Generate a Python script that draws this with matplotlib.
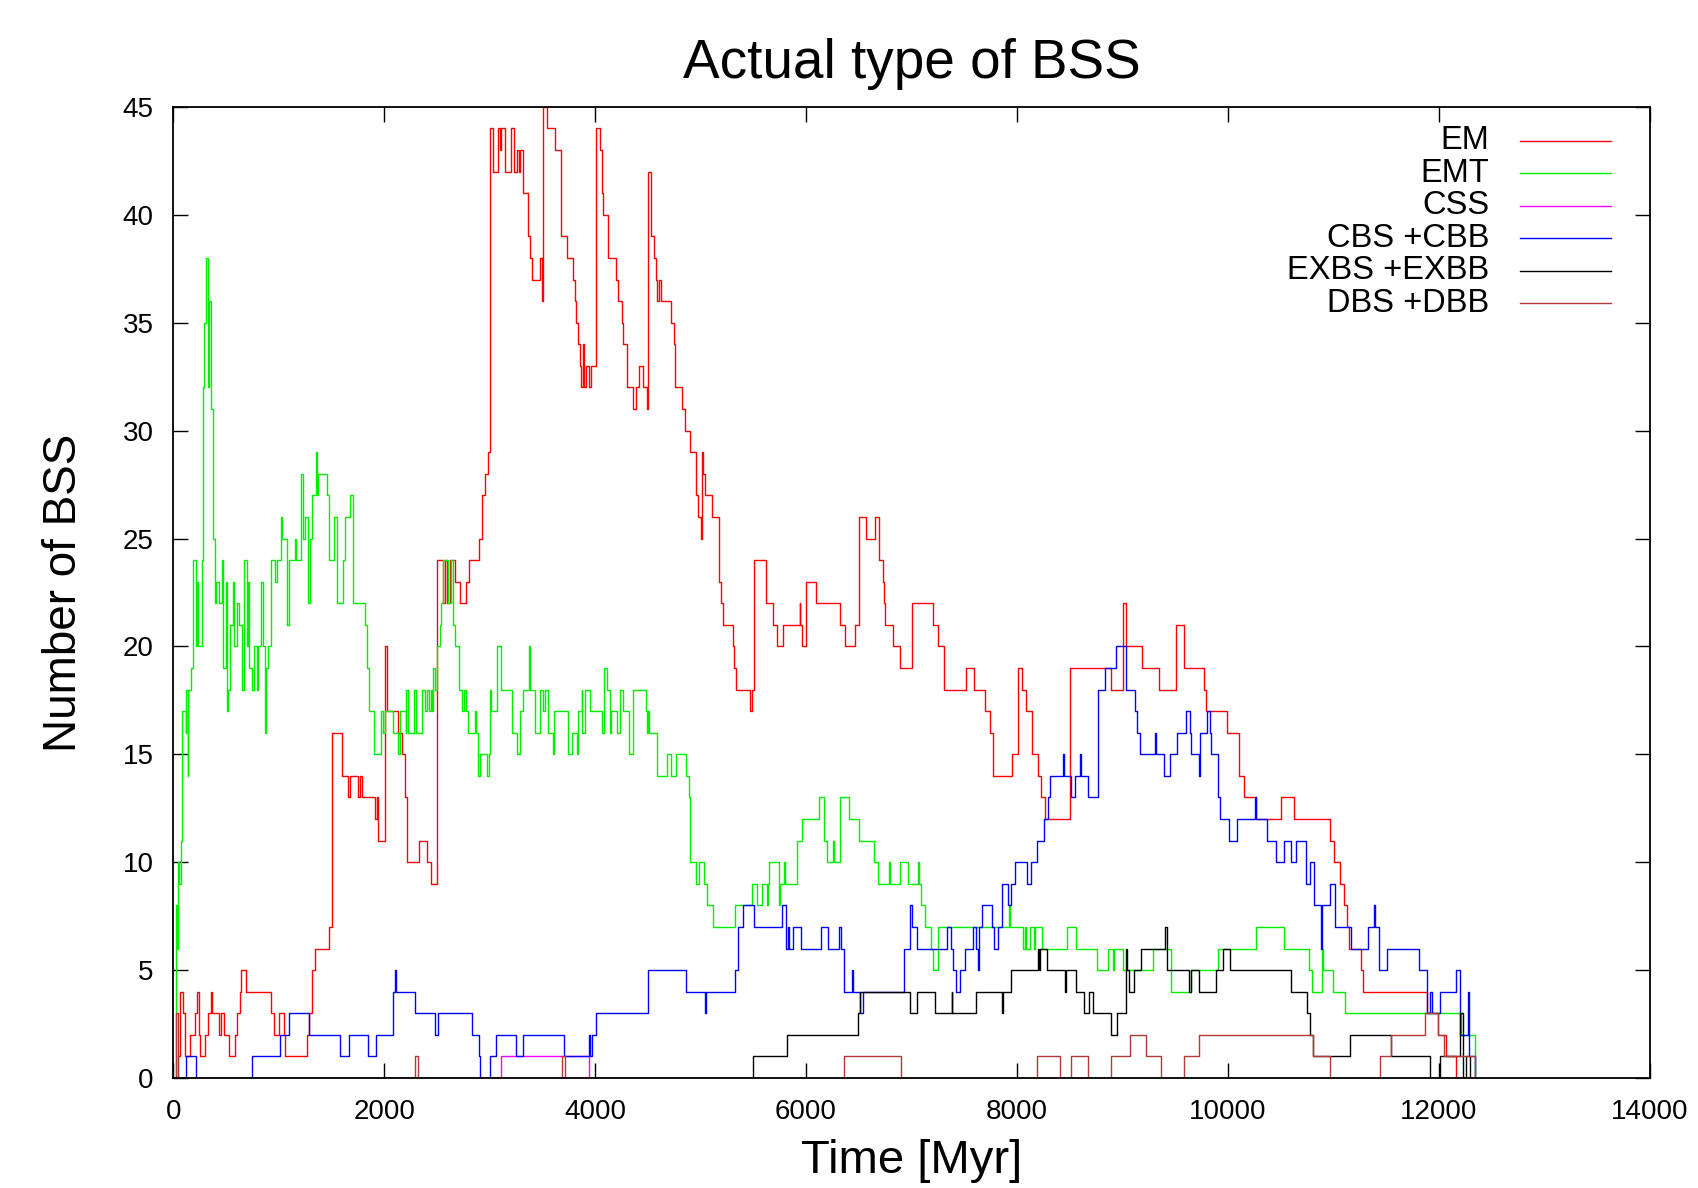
import matplotlib
matplotlib.use("Agg")
import matplotlib.pyplot as plt
from matplotlib.lines import Line2D

plt.rcParams['font.family'] = ['Liberation Sans', 'DejaVu Sans']

# (time [Myr], number of BSS) step breakpoints
em = [(0, 0), (40, 1), (60, 4), (91, 3), (113, 1), (161, 2), (208, 3), (224, 4), (240, 3), (246, 2),
      (255, 1), (303, 2), (328, 3), (358, 4), (366, 3), (429, 2), (451, 3), (483, 2), (530, 1), (587, 2),
      (603, 3), (628, 4), (641, 5), (688, 4), (928, 3), (957, 2), (1004, 3), (1052, 2), (1061, 1), (1267, 2),
      (1283, 3), (1314, 5), (1339, 6), (1472, 7), (1504, 16), (1595, 14), (1658, 13), (1674, 14), (1753, 13),
      (1769, 14), (1785, 13), (1911, 12), (1927, 13), (1943, 11), (2006, 20), (2022, 17), (2133, 16),
      (2164, 15), (2196, 13), (2218, 10), (2332, 11), (2408, 10), (2439, 9), (2505, 24), (2560, 22),
      (2575, 24), (2591, 22), (2622, 24), (2670, 23), (2717, 22), (2780, 23), (2806, 24), (2900, 25),
      (2923, 27), (2954, 28), (2980, 29), (3002, 44), (3030, 42), (3080, 44), (3100, 43), (3112, 44),
      (3150, 42), (3200, 44), (3230, 42), (3255, 43), (3280, 42), (3292, 43), (3318, 41), (3365, 39),
      (3387, 38), (3406, 37), (3476, 38), (3492, 36), (3507, 45), (3545, 44), (3618, 43), (3681, 39),
      (3735, 38), (3786, 37), (3808, 36), (3814, 35), (3833, 34), (3861, 33), (3868, 32), (3886, 34),
      (3899, 32), (3918, 33), (3940, 32), (3959, 33), (4004, 44), (4045, 43), (4061, 41), (4076, 40),
      (4124, 38), (4196, 37), (4219, 36), (4250, 35), (4266, 34), (4298, 32), (4355, 31), (4386, 32),
      (4418, 33), (4456, 32), (4493, 31), (4506, 42), (4525, 39), (4557, 38), (4575, 37), (4588, 36),
      (4607, 37), (4629, 36), (4724, 35), (4746, 34), (4756, 32), (4828, 31), (4850, 30), (4898, 29),
      (4961, 27), (4977, 26), (5000, 25), (5009, 29), (5025, 28), (5040, 27), (5104, 26), (5173, 23),
      (5192, 22), (5208, 21), (5303, 20), (5318, 19), (5334, 18), (5473, 17), (5483, 18), (5508, 24),
      (5616, 22), (5688, 21), (5726, 20), (5777, 21), (5941, 22), (5947, 21), (5957, 20), (6004, 23),
      (6093, 22), (6320, 21), (6367, 20), (6462, 21), (6503, 26), (6573, 25), (6658, 26), (6690, 24),
      (6725, 23), (6737, 22), (6753, 21), (6826, 20), (6889, 19), (7000, 22), (7205, 21), (7252, 20),
      (7306, 18), (7512, 19), (7590, 18), (7695, 17), (7748, 16), (7774, 14), (7954, 15), (8010, 19),
      (8052, 18), (8089, 17), (8146, 15), (8200, 14), (8232, 13), (8263, 12), (8507, 19), (8896, 18),
      (9006, 22), (9038, 20), (9189, 19), (9347, 18), (9506, 21), (9581, 19), (9771, 18), (9796, 17),
      (9992, 16), (10103, 14), (10150, 13), (10270, 12), (10507, 13), (10624, 12), (10966, 11),
      (11004, 10), (11060, 9), (11098, 8), (11130, 7), (11149, 6), (11266, 5), (11282, 4), (11888, 3),
      (11990, 2), (12072, 1), (12164, 0)]

emt = [(0, 0), (25, 8), (37, 6), (47, 10), (56, 9), (69, 11), (78, 14), (85, 17), (116, 16), (119, 18),
       (135, 14), (142, 18), (164, 19), (189, 24), (214, 20), (221, 23), (230, 20), (268, 24), (277, 32),
       (290, 35), (306, 38), (325, 32), (334, 36), (353, 31), (372, 25), (394, 22), (401, 23), (435, 22),
       (464, 24), (473, 19), (499, 23), (511, 17), (521, 18), (537, 21), (568, 23), (578, 20), (600, 22),
       (622, 21), (647, 18), (669, 24), (695, 20), (710, 23), (720, 19), (742, 18), (767, 20), (796, 18),
       (805, 20), (827, 23), (846, 20), (868, 16), (878, 19), (894, 20), (925, 24), (963, 23), (979, 24),
       (1020, 26), (1033, 25), (1074, 21), (1099, 24), (1153, 25), (1162, 24), (1210, 28), (1232, 25),
       (1248, 26), (1273, 22), (1295, 25), (1311, 27), (1349, 29), (1358, 27), (1374, 28), (1459, 27),
       (1478, 24), (1523, 26), (1548, 22), (1605, 24), (1627, 26), (1674, 27), (1700, 22), (1817, 21),
       (1833, 19), (1854, 17), (1902, 15), (1968, 17), (1990, 16), (2006, 17), (2085, 16), (2126, 15),
       (2148, 17), (2205, 16), (2211, 18), (2227, 16), (2281, 18), (2306, 16), (2363, 18), (2385, 17),
       (2401, 18), (2427, 17), (2439, 18), (2449, 17), (2465, 19), (2480, 18), (2505, 20), (2528, 21),
       (2543, 22), (2559, 24), (2607, 22), (2632, 24), (2648, 21), (2670, 20), (2711, 18), (2733, 17),
       (2755, 18), (2780, 17), (2796, 16), (2859, 17), (2875, 16), (2891, 14), (2907, 15), (2979, 14),
       (2989, 15), (3002, 18), (3017, 17), (3065, 20), (3112, 18), (3207, 16), (3255, 15), (3286, 17),
       (3318, 18), (3375, 20), (3387, 18), (3428, 16), (3476, 18), (3507, 17), (3523, 18), (3555, 16),
       (3596, 15), (3609, 17), (3744, 15), (3776, 16), (3824, 15), (3839, 17), (3871, 18), (3877, 16),
       (3903, 18), (3950, 17), (4061, 16), (4086, 19), (4108, 18), (4140, 16), (4146, 17), (4209, 16),
       (4235, 18), (4266, 17), (4323, 15), (4361, 18), (4481, 17), (4493, 16), (4503, 17), (4512, 16),
       (4544, 16), (4588, 14), (4677, 15), (4724, 14), (4765, 15), (4860, 14), (4892, 13), (4904, 10),
       (4961, 9), (4986, 10), (5031, 9), (5062, 8), (5116, 7), (5328, 8), (5489, 9), (5536, 8), (5581, 9),
       (5628, 8), (5637, 9), (5653, 10), (5742, 8), (5754, 9), (5789, 10), (5802, 9), (5918, 11),
       (5957, 12), (6124, 13), (6169, 11), (6194, 10), (6251, 11), (6263, 10), (6320, 13), (6409, 12),
       (6503, 11), (6649, 10), (6680, 9), (6791, 10), (6800, 9), (6895, 10), (6971, 9), (7060, 10),
       (7070, 9), (7091, 8), (7132, 7), (7186, 6), (7202, 5), (7249, 7), (7925, 8), (7935, 7), (8058, 6),
       (8074, 7), (8090, 6), (8127, 7), (8162, 6), (8175, 7), (8241, 6), (8478, 7), (8557, 6), (8763, 5),
       (8864, 6), (8914, 5), (8921, 6), (9009, 5), (9293, 6), (9458, 4), (9654, 5), (9907, 6), (10271, 7),
       (10536, 6), (10765, 5), (10798, 4), (10893, 6), (10903, 5), (10997, 4), (11114, 3), (12211, 2),
       (12347, 0)]

css = [(0, 0), (3106, 1), (3940, 0), (12350, 0)]

cbs = [(0, 0), (120, 1), (214, 0), (745, 1), (1014, 2), (1099, 3), (1289, 2), (1583, 1), (1662, 2),
       (1842, 1), (1921, 2), (2088, 4), (2100, 5), (2110, 4), (2294, 3), (2483, 2), (2512, 3), (2834, 2),
       (2900, 1), (2910, 0), (3001, 1), (3058, 2), (3254, 1), (3317, 2), (3703, 1), (3940, 2), (3947, 1),
       (3972, 2), (4009, 3), (4502, 5), (4866, 4), (5044, 3), (5050, 4), (5328, 5), (5359, 7), (5401, 8),
       (5502, 7), (5770, 8), (5811, 6), (5827, 7), (5840, 6), (5875, 7), (5954, 6), (6137, 7), (6206, 6),
       (6308, 7), (6333, 6), (6364, 4), (6436, 5), (6443, 4), (6507, 3), (6540, 4), (6933, 6), (6987, 8),
       (7000, 7), (7050, 6), (7338, 7), (7376, 6), (7391, 5), (7423, 4), (7462, 5), (7505, 6), (7584, 7),
       (7616, 6), (7630, 5), (7640, 7), (7672, 8), (7767, 7), (7783, 6), (7821, 7), (7862, 9), (7916, 8),
       (7941, 9), (7982, 10), (8099, 9), (8131, 10), (8188, 11), (8260, 12), (8290, 13), (8317, 14),
       (8437, 15), (8445, 14), (8517, 13), (8554, 14), (8596, 15), (8610, 14), (8675, 13), (8770, 18),
       (8830, 19), (8937, 20), (9034, 18), (9116, 17), (9139, 16), (9170, 15), (9306, 16), (9316, 15),
       (9391, 14), (9448, 15), (9518, 16), (9606, 17), (9638, 16), (9654, 15), (9723, 14), (9733, 16),
       (9802, 17), (9834, 16), (9843, 15), (9906, 13), (9929, 12), (10011, 11), (10087, 12), (10260, 13),
       (10270, 12), (10371, 11), (10460, 10), (10536, 11), (10602, 10), (10650, 11), (10745, 9),
       (10783, 10), (10821, 8), (10885, 6), (10892, 8), (10972, 9), (11020, 7), (11168, 6), (11326, 7),
       (11390, 8), (11398, 7), (11430, 5), (11509, 6), (11816, 5), (11888, 3), (11915, 4), (11940, 3),
       (12015, 4), (12160, 5), (12205, 2), (12280, 4), (12288, 1), (12347, 0)]

exbs = [(0, 0), (5495, 1), (5818, 2), (6491, 3), (6513, 4), (6981, 3), (7050, 4), (7218, 3), (7380, 4),
        (7388, 3), (7616, 4), (7862, 3), (7870, 4), (7947, 5), (8195, 6), (8205, 5), (8216, 6), (8289, 5),
        (8455, 4), (8465, 5), (8557, 4), (8636, 3), (8684, 4), (8725, 3), (8895, 2), (8952, 3), (9031, 6),
        (9040, 5), (9063, 4), (9110, 5), (9173, 6), (9401, 7), (9426, 5), (9631, 4), (9654, 5), (9727, 4),
        (9890, 5), (9955, 6), (10018, 5), (10602, 4), (10751, 3), (10783, 2), (10808, 1), (11162, 2),
        (11547, 1), (11920, 0), (12015, 1), (12205, 3), (12225, 0), (12260, 1), (12300, 0)]

dbs = [(0, 0), (25, 3), (40, 0), (2294, 1), (2325, 0), (3690, 1), (3712, 0), (6358, 1), (6902, 0),
       (8194, 1), (8409, 0), (8516, 1), (8674, 0), (8895, 1), (9069, 2), (9221, 1), (9363, 0), (9584, 1),
       (9727, 2), (10808, 1), (10972, 0), (11440, 1), (11547, 2), (11866, 3), (11990, 2), (12050, 1),
       (12340, 0)]

labels = ['EM', 'EMT', 'CSS', 'CBS +CBB', 'EXBS +EXBB', 'DBS +DBB']
colors = ['#ff0000', '#00f000', '#ff00ff', '#0000ff', '#000000', '#b03a35']
series = [em, emt, css, cbs, exbs, dbs]

fig = plt.figure(figsize=(16.99, 11.88), dpi=100)
ax = fig.add_axes([0.102, 0.0926, 0.869, 0.8174])

for data, c in zip(series, colors):
    t, v = zip(*data)
    ax.plot(t, v, drawstyle='steps-post', color=c, lw=1.0)

ax.set_xlim(0, 14000)
ax.set_ylim(0, 45)
ax.set_xticks(range(0, 14001, 2000))
ax.set_yticks(range(0, 46, 5))
ax.tick_params(direction='in', length=11, width=1.0, top=True, right=True,
               labelsize=20, pad=15)
ax.tick_params(axis='y', pad=14)
for s in ax.spines.values():
    s.set_linewidth(1.3)

ax.set_xlabel('Time [Myr]', fontsize=34, labelpad=10)
ax.set_ylabel('Number of BSS', fontsize=33)
ax.yaxis.set_label_coords(-0.059, 0.5)
ax.set_title('Actual type of BSS', fontsize=39.5, pad=21)

# gnuplot-style key: right aligned text, sample line on the right
rows = [0.9652, 0.9318, 0.8983, 0.8648, 0.8314, 0.7979]
for lab, c, y in zip(labels, colors, rows):
    ax.text(0.8915, y, lab, transform=ax.transAxes, ha='right', va='center', fontsize=23.5)
    ax.add_line(Line2D([0.912, 0.9736], [y, y], transform=ax.transAxes, color=c, lw=1.0))

fig.savefig('out.png', dpi=100)
